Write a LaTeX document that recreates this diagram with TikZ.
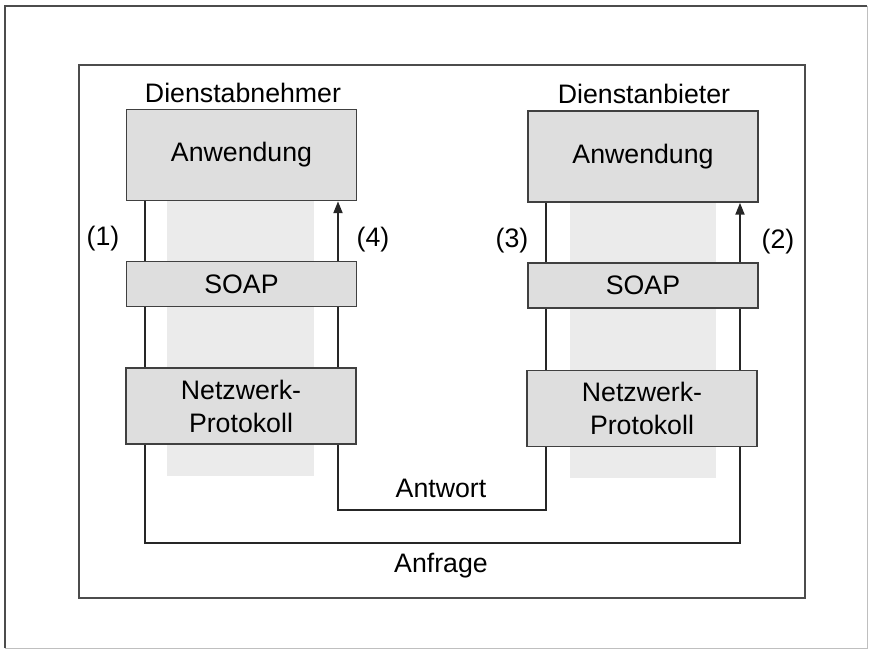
\documentclass[tikz,border=0pt]{standalone}
\usepackage{fontspec}
\setmainfont{Liberation Sans}
\usetikzlibrary{arrows.meta}
\pgfdeclarelayer{pillar}
\pgfdeclarelayer{back}
\pgfsetlayers{pillar,back,main}

\begin{document}
\begin{tikzpicture}
  [x=0.025cm,y=-0.025cm,
   every node/.style={font=\fontsize{19}{23.5}\selectfont,text=black},
   layer/.style={draw=black!75,line width=0.9pt,fill=black!13,inner sep=0pt,
     minimum width=5.75cm,align=center},
   conn/.style={line width=1.7pt,draw=black!85},
   tip/.style={-{Triangle[length=3mm,width=2.2mm]}}]
  \useasboundingbox (0,0) rectangle (869,652);

  % frames
  \draw[black!70,line width=0.8pt] (5,648) -- (5,6) -- (867,6);
  \draw[black!25,line width=0.6pt] (867,6) -- (867,648) -- (5,648);
  \draw[black!70,line width=0.9pt] (79,65) rectangle (805,598);

  % left side
  \node (user) at (243,93) {Dienstabnehmer};
  \node[layer,minimum height=2.275cm] (anw1) at (241.5,155) {Anwendung};
  \node[layer,minimum height=1.125cm] (soap1) at (241.5,284) {SOAP};
  \node[layer,minimum height=1.9cm] (netz1) at (241,406) {Netzwerk-\\Protokoll};

  % right side
  \node (prov) at (644,94) {Dienstanbieter};
  \node[layer,minimum height=2.275cm] (anw2) at (643,156.5) {Anwendung};
  \node[layer,minimum height=1.125cm] (soap2) at (643,285.5) {SOAP};
  \node[layer,minimum height=1.9cm] (netz2) at (642,408.5) {Netzwerk-\\Protokoll};

  \begin{pgfonlayer}{pillar}
    \fill[black!8] (167,200) rectangle (314,476);
    \fill[black!8] (570,202) rectangle (716,478);
  \end{pgfonlayer}

  \coordinate (a1) at (145,543);
  \coordinate (a2) at (740,543);
  \coordinate (b1) at (546,510);
  \coordinate (b2) at (338,510);

  \begin{pgfonlayer}{back}
    \draw[conn,tip] (anw1.south -| a1) -- (a1) -- (a2) -- (anw2.south -| a2);
    \draw[conn,tip] (anw2.south -| b1) -- (b1) -- (b2) -- (anw1.south -| b2);
  \end{pgfonlayer}

  \node (n1) at (103,239) {(1)};
  \node (n4) at (373,240) {(4)};
  \node (n3) at (512,241) {(3)};
  \node (n2) at (778,242) {(2)};
  \node (resp) at (441,488) {Antwort};
  \node (req) at (441,566) {Anfrage};
\end{tikzpicture}
\end{document}
